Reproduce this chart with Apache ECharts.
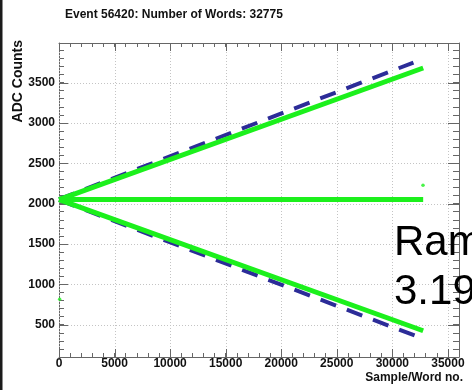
<!DOCTYPE html>
<html>
<head>
<meta charset="utf-8">
<script src="https://cdn.jsdelivr.net/npm/echarts@6/dist/echarts.min.js"></script>
<style>
  html, body { margin: 0; padding: 0; background: #fff; }
  #chart { width: 472px; height: 390px; }
</style>
</head>
<body>
<div id="chart"></div>
<script>
// Event display: ADC counts per sample word
const eventTitle = 'Event 56420: Number of Words: 32775';
const xTitle = 'Sample/Word no.';
const yTitle = 'ADC Counts';

const xRange = [0, 36000];
const yRange = [100, 3990];
const xMajorTicks = [0, 5000, 10000, 15000, 20000, 25000, 30000, 35000];
const yMajorTicks = [500, 1000, 1500, 2000, 2500, 3000, 3500];

// measured ramps (word number, ADC counts)
const rampUp = [[0, 2050], [32775, 3680]];
const baseline = [[0, 2050], [32775, 2050]];
const rampDown = [[0, 2050], [32775, 425]];
// expected ramps
const expectedUp = [[0, 2055], [31900, 3748]];
const expectedDown = [[0, 2045], [32030, 365]];
// isolated words
const strayWords = [[60, 814], [32760, 2228]];

const noteLines = ['Ram', '3.19'];

const FONT = '"Liberation Sans", Arial, Helvetica, sans-serif';
const GREEN = '#1cf01c';
const BLUE = '#2c2c98';
const FRAME = '#666';

const chart = echarts.init(document.getElementById('chart'), null, { renderer: 'canvas' });

function crisp(v) { return Math.round(v) + 0.5; }

const xAxisBase = {
  type: 'value', min: xRange[0], max: xRange[1], interval: 1000,
  axisLine: { show: true, onZero: false, lineStyle: { color: FRAME, width: 1 } },
  axisTick: { show: true, inside: true, length: 4, lineStyle: { color: FRAME } },
  splitLine: { show: false }
};
const yAxisBase = {
  type: 'value', min: yRange[0], max: yRange[1], interval: 100,
  axisLine: { show: true, onZero: false, lineStyle: { color: FRAME, width: 1 } },
  axisTick: { show: true, inside: true, length: 5, lineStyle: { color: FRAME } },
  splitLine: { show: false }
};

const option = {
  animation: false,
  backgroundColor: '#fff',
  title: {
    text: eventTitle, left: 65, top: 9, padding: 0,
    textStyle: { color: '#111', fontFamily: FONT, fontWeight: 'bold', fontSize: 12 }
  },
  grid: { left: 59, top: 43, width: 400, height: 314, containLabel: false },
  xAxis: [
    Object.assign({}, xAxisBase, {
      position: 'bottom',
      axisLabel: {
        margin: 1, color: '#111', fontFamily: FONT, fontWeight: 'bold', fontSize: 12,
        formatter: v => (v % 5000 === 0 && v <= 35000) ? String(v) : ''
      }
    }),
    Object.assign({}, xAxisBase, { position: 'top', axisLabel: { show: false } })
  ],
  yAxis: [
    Object.assign({}, yAxisBase, {
      position: 'left',
      axisLabel: {
        margin: 4, color: '#111', fontFamily: FONT, fontWeight: 'bold', fontSize: 12,
        formatter: v => (v % 500 === 0) ? String(v) : ''
      }
    }),
    Object.assign({}, yAxisBase, { position: 'right', axisTick: { show: true, inside: true, length: 6, lineStyle: { color: FRAME } }, axisLabel: { show: false } })
  ],
  graphic: [
    { type: 'rect', shape: { x: 0, y: 0, width: 2.5, height: 390 }, style: { fill: '#1b1b1b' }, silent: true },
    {
      type: 'text', x: 18, y: 40, rotation: Math.PI / 2, silent: true,
      style: { text: yTitle, fill: '#111', font: 'bold 14px ' + FONT, align: 'right', verticalAlign: 'middle' }
    },
    {
      type: 'text', x: 463, y: 378, silent: true,
      style: { text: xTitle, fill: '#111', font: 'bold 12px ' + FONT, align: 'right', verticalAlign: 'middle' }
    },
    {
      type: 'text', x: 394, y: 243, silent: true, z: 100,
      style: { text: noteLines[0], fill: '#000', font: '42px ' + FONT, align: 'left', verticalAlign: 'middle' }
    },
    {
      type: 'text', x: 394, y: 292, silent: true, z: 100,
      style: { text: noteLines[1], fill: '#000', font: '42px ' + FONT, align: 'left', verticalAlign: 'middle' }
    }
  ],
  series: [
    {
      // vertical grid lines and major ticks on the x axes
      type: 'custom', silent: true, z: 1, clip: false,
      data: xMajorTicks.map(v => [v, yRange[0]]),
      renderItem: (params, api) => {
        const cs = params.coordSys;
        const x = crisp(api.coord([api.value(0), api.value(1)])[0]);
        const top = cs.y, bot = cs.y + cs.height;
        return {
          type: 'group', children: [
            { type: 'line', shape: { x1: x, y1: top, x2: x, y2: bot }, style: { stroke: '#c4c4c4', lineWidth: 1, lineDash: [1, 2] } },
            { type: 'line', shape: { x1: x, y1: bot, x2: x, y2: bot - 8 }, style: { stroke: FRAME, lineWidth: 1 } },
            { type: 'line', shape: { x1: x, y1: top, x2: x, y2: top + 8 }, style: { stroke: FRAME, lineWidth: 1 } }
          ]
        };
      }
    },
    {
      // horizontal grid lines and major ticks on the y axes
      type: 'custom', silent: true, z: 1, clip: false,
      data: yMajorTicks.map(v => [xRange[0], v]),
      renderItem: (params, api) => {
        const cs = params.coordSys;
        const y = crisp(api.coord([api.value(0), api.value(1)])[1]);
        const left = cs.x, right = cs.x + cs.width;
        return {
          type: 'group', children: [
            { type: 'line', shape: { x1: left, y1: y, x2: right, y2: y }, style: { stroke: '#c4c4c4', lineWidth: 1, lineDash: [1, 2] } },
            { type: 'line', shape: { x1: left, y1: y, x2: left + 9, y2: y }, style: { stroke: FRAME, lineWidth: 1 } },
            { type: 'line', shape: { x1: right, y1: y, x2: right - 11, y2: y }, style: { stroke: FRAME, lineWidth: 1 } }
          ]
        };
      }
    },
    { type: 'line', data: expectedUp, symbol: 'none', z: 3, lineStyle: { color: BLUE, width: 4, type: [16.5, 11.5] } },
    { type: 'line', data: expectedDown, symbol: 'none', z: 3, lineStyle: { color: BLUE, width: 4, type: [16.5, 11.5] } },
    { type: 'line', data: rampUp, symbol: 'none', z: 4, lineStyle: { color: GREEN, width: 5 } },
    { type: 'line', data: baseline, symbol: 'none', z: 4, lineStyle: { color: GREEN, width: 5 } },
    { type: 'line', data: rampDown, symbol: 'none', z: 4, lineStyle: { color: GREEN, width: 5 } },
    { type: 'scatter', data: strayWords, symbol: 'circle', symbolSize: 3.5, z: 4, itemStyle: { color: GREEN } }
  ]
};

chart.setOption(option);
</script>
</body>
</html>
